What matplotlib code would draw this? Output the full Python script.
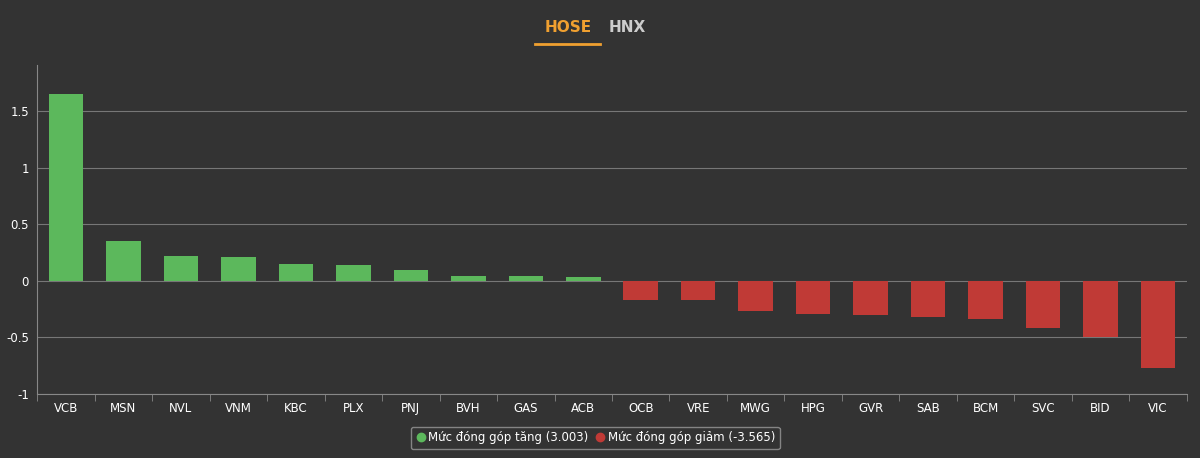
import matplotlib.pyplot as plt
import numpy as np

tickers = ['VCB', 'MSN', 'NVL', 'VNM', 'KBC', 'PLX', 'PNJ', 'BVH', 'GAS', 'ACB',
           'OCB', 'VRE', 'MWG', 'HPG', 'GVR', 'SAB', 'BCM', 'SVC', 'BID', 'VIC']
values = [1.655, 0.354, 0.22, 0.21, 0.15, 0.14, 0.10, 0.044, 0.044, 0.035,
          -0.17, -0.17, -0.27, -0.29, -0.30, -0.32, -0.34, -0.42, -0.50, -0.77]
yticks = [-1, -0.5, 0, 0.5, 1, 1.5]
ytick_labels = ['-1', '-0.5', '0', '0.5', '1', '1.5']

bg = '#333333'
green = '#5cb85c'
red = '#c03a36'

fig = plt.figure(figsize=(12, 4.58), dpi=100, facecolor=bg)
ax = fig.add_axes([0.031, 0.140, 0.958, 0.718], facecolor=bg)

x = np.arange(len(tickers))
colors = [green if v >= 0 else red for v in values]
ax.bar(x, values, width=0.6, color=colors, zorder=3)

ax.set_xlim(-0.5, len(tickers) - 0.5)
ax.set_ylim(-1, 1.91)
ax.set_yticks(yticks)
ax.set_yticklabels(ytick_labels)
ax.set_xticks(x)
ax.set_xticklabels(tickers)
ax.tick_params(colors='white', labelsize=8.5, length=0, pad=6)
ax.tick_params(axis='x', length=4, color='#888888')
ax.yaxis.grid(True, color='#777777', linewidth=0.8, zorder=0)
for s in ['top', 'right']:
    ax.spines[s].set_visible(False)
ax.spines['left'].set_color('#888888')
ax.spines['bottom'].set_color('#888888')
ax.set_xticks(np.arange(len(tickers) + 1) - 0.5, minor=True)
ax.tick_params(axis='x', which='minor', length=5, color='#888888')
ax.tick_params(axis='x', which='major', length=0)

# tabs
fig.text(568 / 1200, 1 - 28 / 458, 'HOSE', color='#f0a030', fontsize=11,
         fontweight='bold', ha='center', va='center')
fig.text(627 / 1200, 1 - 28 / 458, 'HNX', color='#cccccc', fontsize=11,
         fontweight='bold', ha='center', va='center')
fig.add_artist(plt.Line2D([535 / 1200, 600 / 1200], [1 - 44 / 458] * 2,
                          color='#f0a030', linewidth=2))

# legend
from matplotlib.lines import Line2D
handles = [Line2D([], [], marker='o', linestyle='', color=green, markersize=6),
           Line2D([], [], marker='o', linestyle='', color=red, markersize=6)]
leg = fig.legend(handles, ['Mức đóng góp tăng (3.003)', 'Mức đóng góp giảm (-3.565)'],
                 loc='center', bbox_to_anchor=(0.496, 1 - 438 / 458), ncol=2,
                 frameon=True, fontsize=8.5, handletextpad=0.1, columnspacing=0.5,
                 borderpad=0.4, handlelength=1)
leg.get_frame().set_facecolor(bg)
leg.get_frame().set_edgecolor('#999999')
for t in leg.get_texts():
    t.set_color('white')

fig.savefig('out.png', facecolor=bg)
